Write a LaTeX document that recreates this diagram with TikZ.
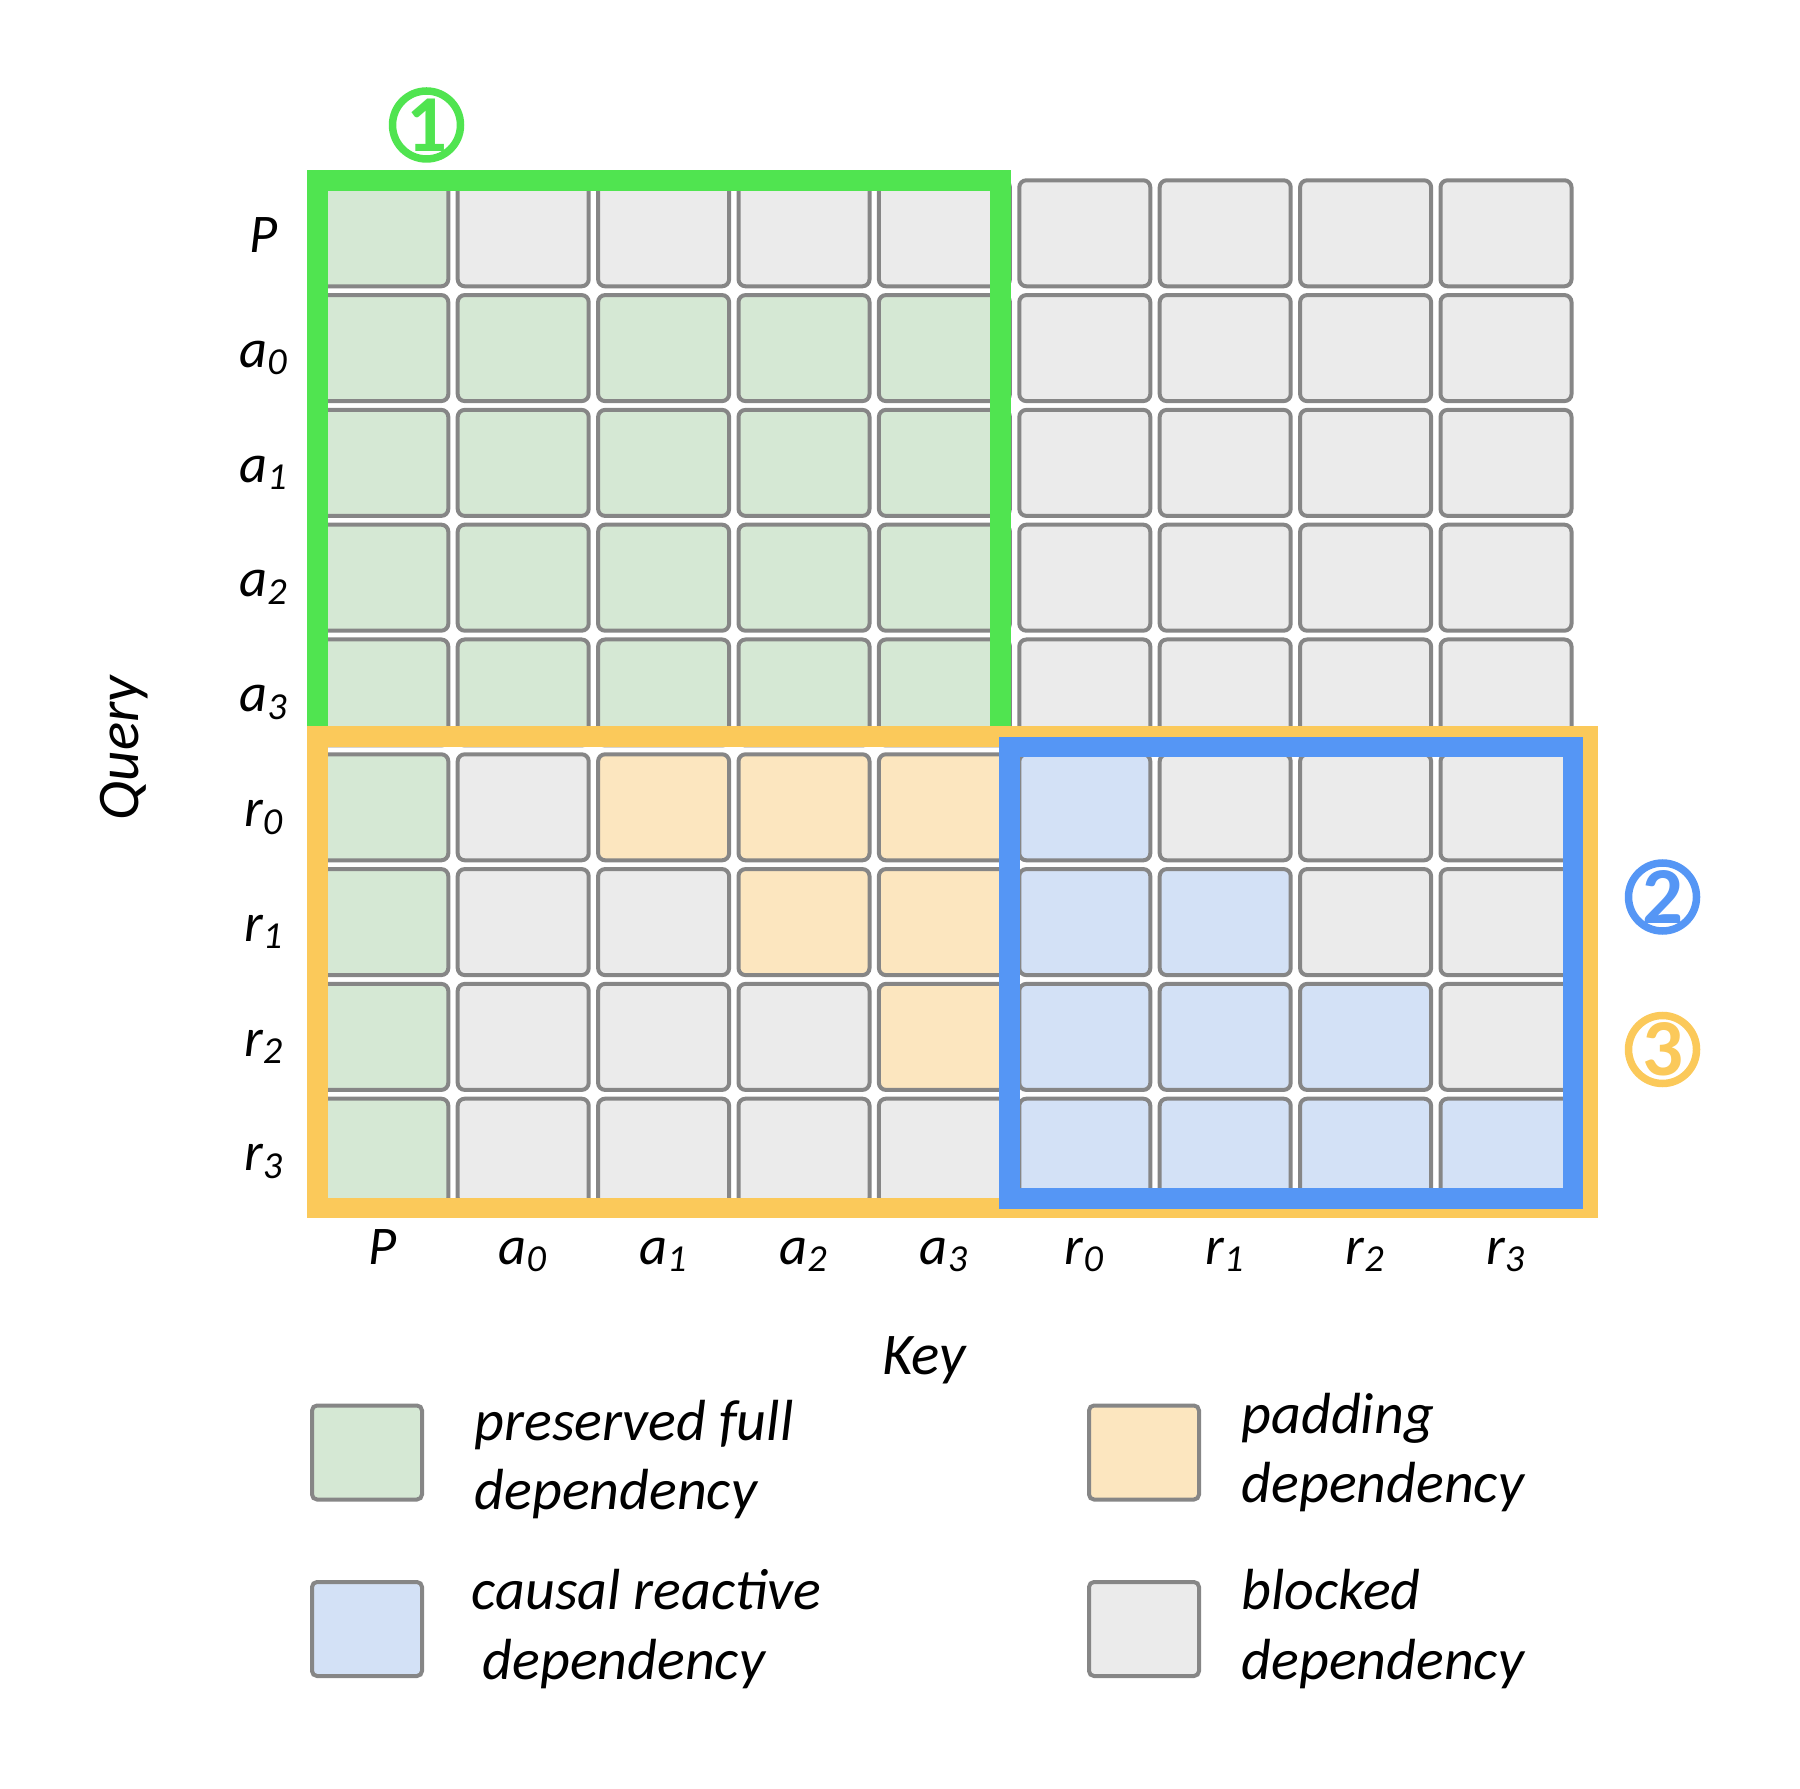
\documentclass[tikz,border=0pt]{standalone}
\usepackage{fontspec}
\setmainfont{Carlito}
\usepackage{xcolor}
\usetikzlibrary{positioning}

\definecolor{greenfill}{HTML}{D5E8D4}
\definecolor{padfill}{HTML}{FCE6BF}
\definecolor{causalfill}{HTML}{D3E1F6}
\definecolor{grayfill}{HTML}{EBEBEB}
\definecolor{cellgray}{HTML}{868686}
\definecolor{greenframe}{HTML}{50E450}
\definecolor{orangeframe}{HTML}{FBC95A}
\definecolor{blueframe}{HTML}{5596F5}

\begin{document}
\begin{tikzpicture}[
  x=0.1mm, y=-0.1mm,
  cell/.style    = {rectangle, rounded corners=0.7mm, draw=cellgray,
                    line width=0.4mm, minimum width=13.1mm,
                    minimum height=10.6mm, inner sep=0},
  legbox/.style  = {rectangle, rounded corners=0.5mm, draw=cellgray,
                    line width=0.4mm, minimum width=11mm,
                    minimum height=9.4mm, inner sep=0},
  lab/.style     = {inner sep=0, font=\fontsize{15.5}{18}\selectfont\itshape},
  axis/.style    = {inner sep=0, font=\fontsize{16.8}{20}\selectfont\itshape},
  legtext/.style = {inner sep=0, align=left,
                    font=\fontsize{16.5}{19.8}\selectfont\itshape},
  frame/.style   = {line width=2.08mm, line join=miter},
  badge/.style   = {circle, draw, line width=0.75mm, minimum size=6.8mm,
                    inner sep=0, font=\fontsize{23}{23}\selectfont\bfseries},
]
\useasboundingbox (0,0) rectangle (1800,1789);

% attention cells
\foreach \i in {0,...,8} {
  \foreach \j in {0,...,8} {
    \def\cfill{grayfill}
    \ifnum\j=0 \def\cfill{greenfill}\fi
    \ifnum\i>0 \ifnum\i<5 \ifnum\j<5 \def\cfill{greenfill}\fi\fi\fi
    \ifnum\i>4
      \pgfmathtruncatemacro\k{\i-5}
      \pgfmathtruncatemacro\lo{\k+2}
      \pgfmathtruncatemacro\hi{\k+5}
      \ifnum\j<5 \ifnum\j<\lo\else \def\cfill{padfill}\fi\fi
      \ifnum\j>4 \ifnum\j>\hi\else \def\cfill{causalfill}\fi\fi
    \fi
    \node[cell, fill=\cfill] (c-\i-\j) at (382.8+140.4*\j, 233.3+114.8*\i) {};
  }
}

% row and column labels
\foreach \lab [count=\i from 0] in {P, a\textsubscript{0}, a\textsubscript{1},
    a\textsubscript{2}, a\textsubscript{3}, r\textsubscript{0},
    r\textsubscript{1}, r\textsubscript{2}, r\textsubscript{3}} {
  \node[lab, anchor=base] (row-\i) at (264, 252.5+114.8*\i) {\lab};
  \node[lab, anchor=base] (col-\i) at (382.8+140.4*\i, 1264) {\lab};
}

\node[axis, rotate=90] (query) at (124,748) {Query};
\node[axis] (key) at (924,1360) {Key};

% region frames
\draw[frame, greenframe]  (317.5,180.5) rectangle (1000.3,736.7);
\draw[frame, orangeframe] (317.2,736.7) rectangle (1588,1208);
\draw[frame, blueframe]   (1009.7,747) rectangle (1573,1198.8);

\node[badge, draw=greenframe, text=greenframe]   (one)   at (426.5,125)   {1};
\node[badge, draw=blueframe, text=blueframe]     (two)   at (1662.5,897)  {2};
\node[badge, draw=orangeframe, text=orangeframe] (three) at (1662.5,1049.5) {3};

% legend
\node[legbox, fill=greenfill]  (lg-full)   at (367,1452.5)  {};
\node[legbox, fill=causalfill] (lg-causal) at (367,1629)    {};
\node[legbox, fill=padfill]    (lg-pad)    at (1144,1452.5) {};
\node[legbox, fill=grayfill]   (lg-block)  at (1144,1629)   {};

\node[legtext, right=5mm of lg-full, yshift=-0.7mm] (lt-full) {preserved full\\dependency};
\node[legtext, right=4.7mm of lg-causal] (lt-causal) {causal reactive\\\hspace*{1.1mm}dependency};
\node[legtext, right=4mm of lg-pad]      (lt-pad)    {padding\\dependency};
\node[legtext, right=4mm of lg-block]    (lt-block)  {blocked\\dependency};

\end{tikzpicture}
\end{document}
